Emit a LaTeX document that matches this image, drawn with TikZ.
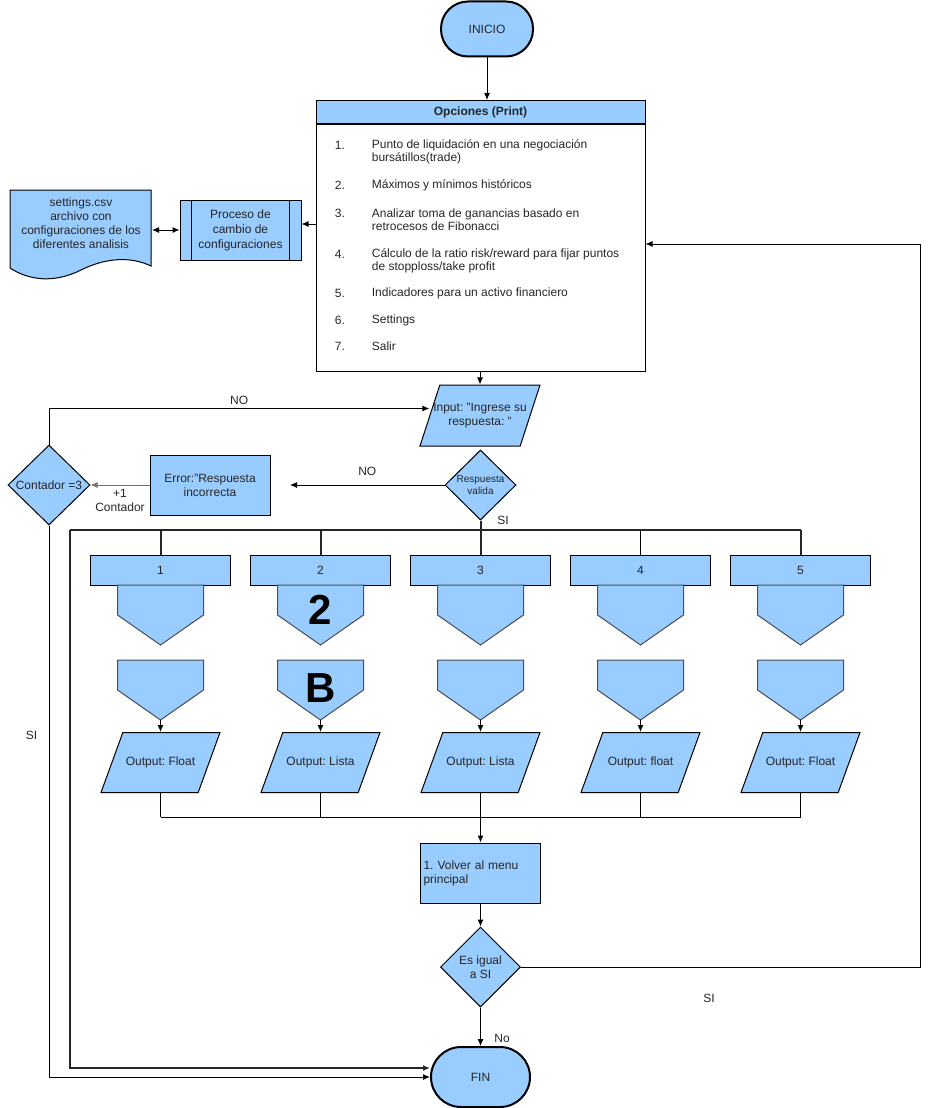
\documentclass[tikz,border=0pt]{standalone}
\usepackage{fontspec}
\setmainfont{Liberation Sans}
\frenchspacing
\usetikzlibrary{arrows.meta,calc,positioning,shapes.geometric}
\definecolor{flowblue}{HTML}{99CCFF}
\definecolor{inkgray}{HTML}{262626}
\newcommand{\fsz}[2]{\fontsize{#1}{#2}\selectfont}

\tikzset{
  term/.style={draw, line width=2pt, fill=flowblue, rounded corners=27pt,
    minimum width=92pt, minimum height=55pt},
  blk/.style={draw, fill=flowblue, align=center, inner sep=2pt},
  io/.style={trapezium, trapezium left angle=70, trapezium right angle=110,
    trapezium stretches body, draw, fill=flowblue,
    inner xsep=0pt, inner ysep=30pt, minimum width=119pt},
  dec/.style={diamond, draw, fill=flowblue, inner sep=0pt},
  offpage/.style={draw=black!70, fill=flowblue},
  trunk/.style={line width=2pt, black!85},
}

\begin{document}
\begin{tikzpicture}[x=1pt,y=-1pt,line width=1pt,>={Latex[length=7pt,width=6pt]},
    every node/.style={font=\fsz{12pt}{14pt}, text=inkgray}]
  \useasboundingbox (0,0) rectangle (929,1108);

  % inicio y menu de opciones
  \node[term] (ini) at (487,29) {INICIO};
  \node[draw, fill=flowblue, minimum width=329pt, minimum height=23pt,
    font=\fsz{12pt}{14pt}\bfseries] (opch) at (480.5,112) {Opciones (Print)};
  \node[draw, fill=white, minimum width=329pt, minimum height=247pt,
    anchor=north] (opc) at (opch.south) {};
  \draw[->] (ini.south) -- (ini.south |- opch.north);

  \foreach \i/\ya/\yc/\txt in {
      1/145/151.5/{Punto de liquidación en una negociación\\bursátillos(trade)},
      2/185/185/{Máximos y mínimos históricos},
      3/213/219.5/{Analizar toma de ganancias basado en\\retrocesos de Fibonacci},
      4/254/260.5/{Cálculo de la ratio risk/reward para fijar puntos\\de stopploss/take profit},
      5/293/293/{Indicadores para un activo financiero},
      6/320/320/{Settings},
      7/346/346/{Salir}}
  {
    \node[anchor=west] (num\i) at (331,\ya) {\i.};
    \node[anchor=west, align=left, font=\fsz{12pt}{13pt}] (opt\i) at (368,\yc) {\txt};
  }

  % configuraciones
  \node[blk, minimum width=121pt, minimum height=60pt, font=\fsz{12pt}{15pt}]
    (proc) at (240.5,230) {Proceso de\\cambio de\\configuraciones};
  \draw ([xshift=12pt]proc.north west) -- ([xshift=12pt]proc.south west);
  \draw ([xshift=-12pt]proc.north east) -- ([xshift=-12pt]proc.south east);
  \draw[fill=flowblue] (10,190) -- (151,190) -- (151,266)
    .. controls (130,256) and (105,258) .. (81,270)
    .. controls (55,283) and (30,281) .. (10,268) -- cycle;
  \node[align=center, minimum width=141pt] (doc) at (81,223)
    {settings.csv\\archivo con\\configuraciones de los\\diferentes analisis};
  \draw[->] ([yshift=6pt]proc.east -| opc.west) -- ([yshift=6pt]proc.east);
  \draw[<->] (doc.east |- proc.west) -- (proc.west);

  % entrada y validacion
  \node[io, minimum width=120pt, inner ysep=30.5pt, trapezium left angle=72,
    trapezium right angle=108,
    label={[align=center]center:Input: "Ingrese su\\respuesta: "}] (inp) at (480,415.5) {};
  \draw[->] (opc.south -| inp.north) -- (inp.north);
  \node[dec, minimum width=71pt, minimum height=70pt,
    label={[align=center, font=\fsz{10pt}{12pt}]center:Respuesta\\valida}] (resp) at (480.5,485) {};
  \node[blk, minimum width=120pt, minimum height=60pt] (err) at (210,485)
    {Error:"Respuesta\\incorrecta};
  \node[dec, minimum width=82pt, minimum height=80pt,
    label={center:Contador =3}] (cnt) at (49,485) {};
  \coordinate (noend) at (290,485);
  \draw[->] (resp.west) -- node[above=6pt] {NO} (noend);
  \draw[->, black!55] (err.west) -- node[below, align=center] {+1\\Contador} (cnt.east);
  \draw[->] (cnt.north) |- node[pos=0.75, above] {NO} ([yshift=7pt]inp.west);
  \node (si1) at (503,520) {SI};

  % ramas 1 a 5
  \coordinate (jl) at (70,530);
  \coordinate (jr) at (800.5,530);
  \coordinate (mrg) at (480.5,817);
  \foreach \k/\val in {1/Float,2/Lista,3/Lista,4/float,5/Float} {
    \pgfmathsetmacro\cx{0.5+160*\k}
    \node[blk, minimum width=140pt, minimum height=30pt] (b\k) at (\cx,570) {\k};
    \draw[offpage] (\cx-43,585) -- (\cx+43,585) -- (\cx+43,615) -- (\cx,645)
      -- (\cx-43,615) -- cycle;
    \draw[offpage] (\cx-43,660) -- (\cx+43,660) -- (\cx+43,690)
      -- (\cx,720) coordinate (tip\k) -- (\cx-43,690) -- cycle;
    \node[io, label={center:Output: \val}] (out\k) at (\cx,762.5) {};
    \draw[->] (tip\k) -- (out\k.north);
    \draw (out\k.south) -- (out\k.south |- mrg);
  }
  \node[font=\fsz{42pt}{42pt}\bfseries, text=black] (big2) at (320.5,610) {2};
  \node[font=\fsz{42pt}{42pt}\bfseries, text=black] (bigb) at (320.5,688) {B};

  \draw[trunk] (resp.south) -- (resp.south |- jl);
  \draw[trunk] (jl) -- (jr);
  \foreach \k in {1,2,3,5} \draw[trunk] (b\k.north |- jl) -- (b\k.north);
  \draw (b4.north |- jl) -- (b4.north);
  \draw (out1.south |- mrg) -- (out5.south |- mrg);

  % regreso al menu y fin
  \node[blk, minimum width=120pt, minimum height=60pt, align=left, text width=114pt]
    (vol) at (480.5,873) {1. Volver al menu\\principal};
  \node[dec, minimum width=80pt, minimum height=80pt,
    label={[align=center]center:Es igual\\a SI}] (esi) at (480.5,967) {};
  \node[term, minimum width=99pt, minimum height=60pt, rounded corners=30pt]
    (fin) at (480.5,1077) {FIN};
  \draw[->] (mrg) -- (vol.north);
  \draw[->] (vol.south) -- (esi.north);
  \draw[->] (esi.south) -- node[pos=0.8, right=10pt] {No} (fin.north);
  \coordinate (rt) at (920,244);
  \draw[->] (esi.east) -| (rt) -- (rt -| opc.east);
  \node (si2) at (709,998) {SI};
  \draw[->] (cnt.south) |- node[pos=0.19, left=8pt] {SI} (fin.west);
  \draw[trunk, ->] (jl) |- ([yshift=9pt]fin.west);
\end{tikzpicture}
\end{document}
